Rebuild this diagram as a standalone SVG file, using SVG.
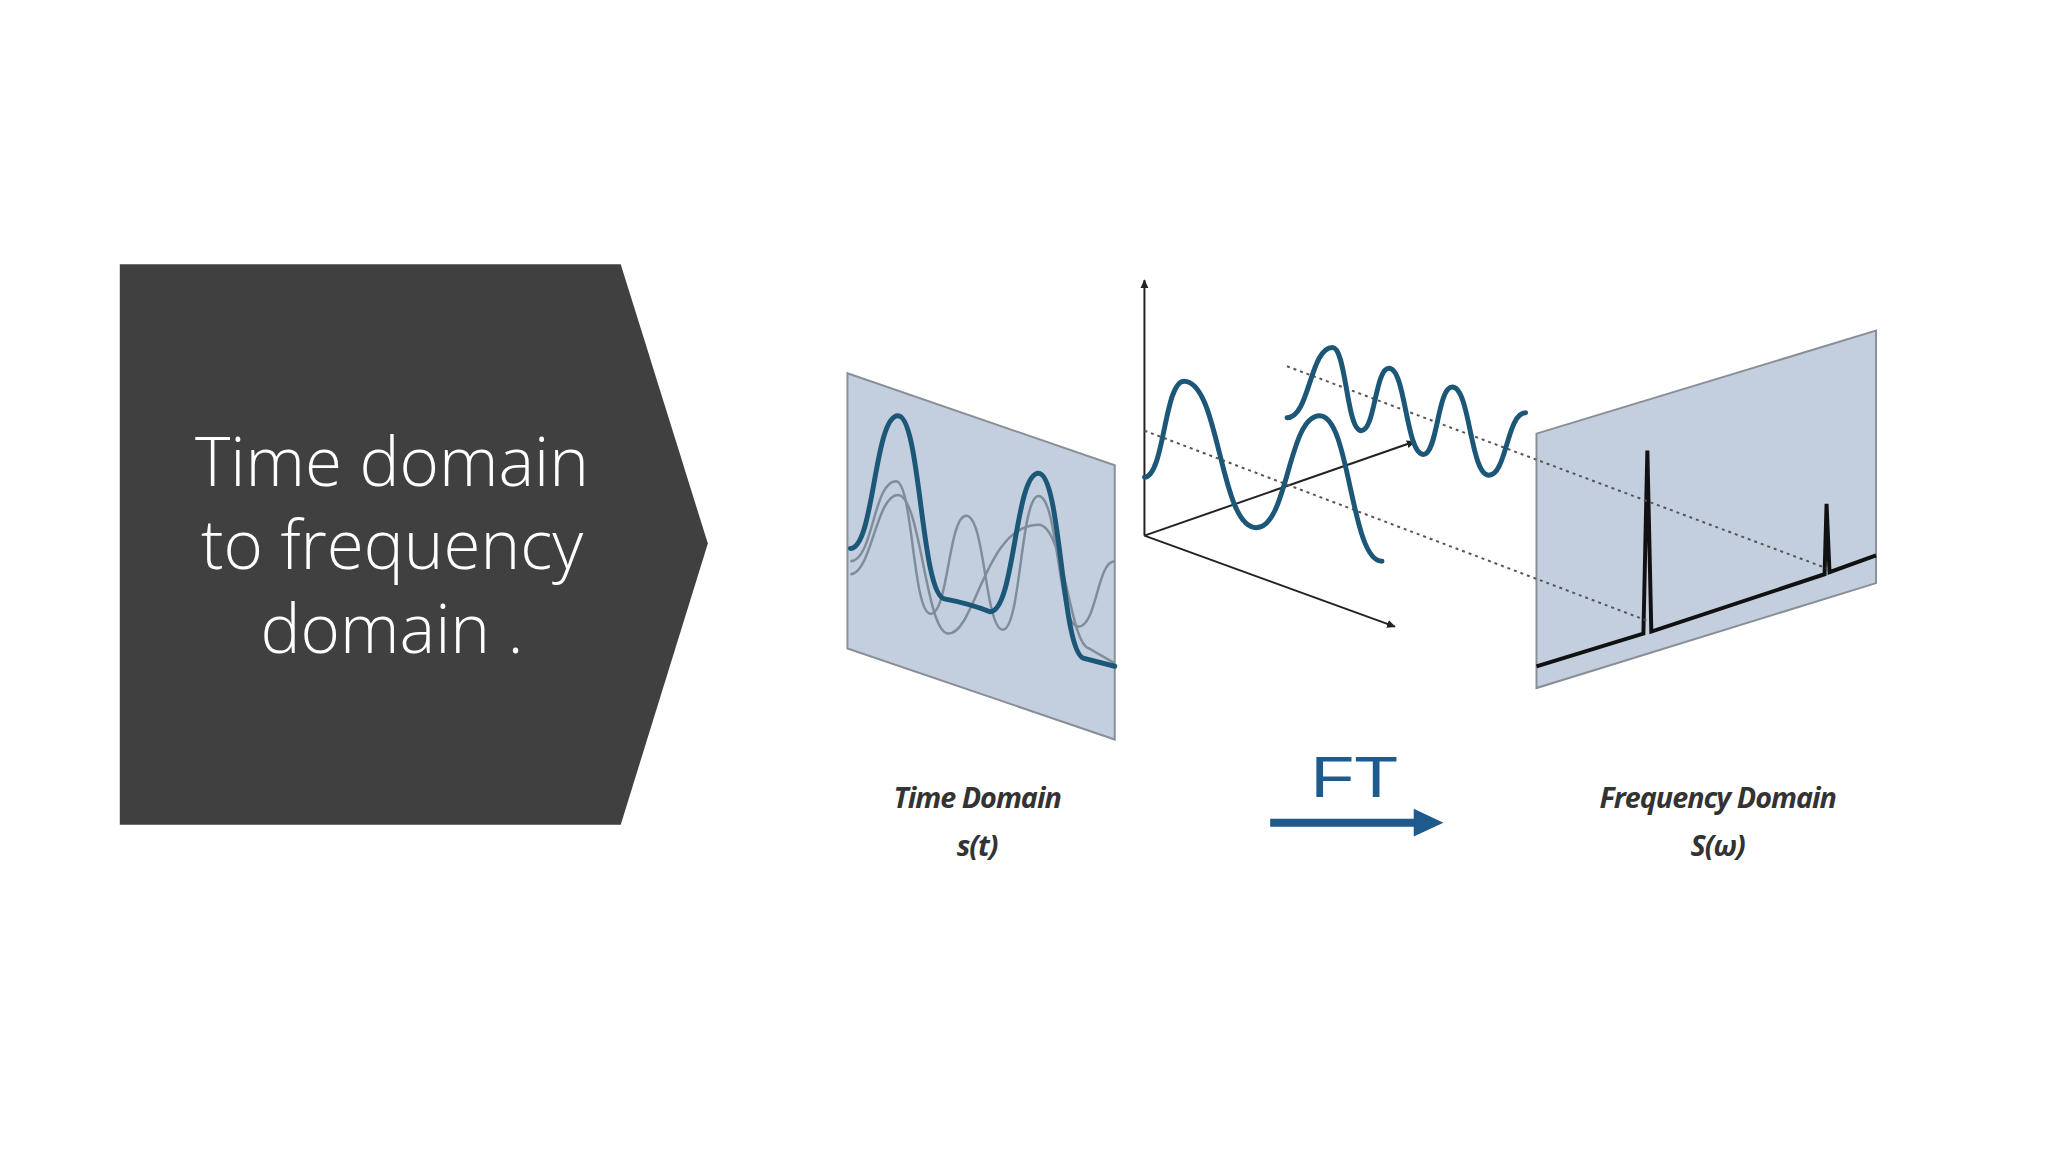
<svg xmlns="http://www.w3.org/2000/svg" width="2048" height="1152" viewBox="0 0 2048 1152">
<style>
.panel{fill:#c3cfdf;stroke:#8a8f96;stroke-width:2}
.wave{fill:none;stroke:#1d5778;stroke-width:5;stroke-linecap:round}
.gray{fill:none;stroke:#7f8c99;stroke-width:2.5}
.axis{fill:none;stroke:#222;stroke-width:2}
.dot{fill:none;stroke:#555;stroke-width:2;stroke-dasharray:3 4}
.lbl{font-family:"Open Sans","Liberation Sans",sans-serif;font-style:italic;font-weight:bold;font-size:29px;fill:#333;text-anchor:middle;letter-spacing:-1px}
</style>
<defs>
<marker id="ah" markerWidth="10" markerHeight="10" refX="8" refY="5" orient="auto" markerUnits="userSpaceOnUse"><path d="M0,1 L9,5 L0,9 z" fill="#222"/></marker>
</defs>
<rect width="2048" height="1152" fill="#fff"/>
<g transform="scale(0.99)">
<g id="title">
<polygon points="121,267 627,267 715,549 627,833 121,833" fill="#404040"/>
<text font-family="Open Sans,Liberation Sans,sans-serif" font-weight="300" font-size="68" fill="#fff" text-anchor="middle"><tspan x="396" y="491">Time domain</tspan><tspan x="396" y="575">to frequency</tspan><tspan x="396" y="660">domain .</tspan></text>
</g>
<g id="time-panel">
<polygon class="panel" points="856,377 1126,470 1126,747 856,655"/>
<path class="gray" d="M859,567 C882,567 882,486 905,486 C922,486 922,620 940,620 C958,620 958,521 976,521 C995,521 995,636 1013,636 C1031,636 1031,501 1049,501 C1069,501 1069,633 1089,633 C1108,633 1108,567 1126,567"/>
<path class="gray" d="M859,580 C880,580 885,500 907,500 C930,500 935,640 958,640 C985,640 995,530 1049,530 C1075,530 1080,650 1100,655 L1126,670"/>
<path class="wave" d="M859,554 C883,554 883,420 907,420 C930,420 930,600 954,605 C970,608 985,612 1000,618 C1025,618 1025,478 1049,478 C1072,478 1072,660 1095,665 L1126,673"/>
</g>
<g id="freq-panel">
<polygon class="panel" points="1552,438 1895,334 1895,589 1552,695"/>
<path d="M1552,673 L1660,640 L1664,455 L1668,638 L1843,580 L1845,509 L1848,578 L1895,561" fill="none" stroke="#111" stroke-width="4"/>
</g>
<g id="axes">
<line class="axis" x1="1156" y1="541" x2="1156" y2="283" marker-end="url(#ah)"/>
<line class="axis" x1="1156" y1="541" x2="1409" y2="633" marker-end="url(#ah)"/>
<line class="axis" x1="1156" y1="541" x2="1429" y2="446" marker-end="url(#ah)"/>
<line class="dot" x1="1300" y1="370" x2="1845" y2="574"/>
<line class="dot" x1="1156" y1="435" x2="1664" y2="627"/>
<path class="wave" d="M1300,422 C1323,422 1323,351 1346,351 C1360,351 1360,435 1375,435 C1389,435 1389,372 1403,372 C1420,372 1420,459 1438,459 C1452,459 1452,391 1467,391 C1485,391 1485,480 1504,480 C1522,480 1522,417 1541,417"/>
<path class="wave" d="M1156,482 C1176,482 1176,385 1196,385 C1232,385 1232,533 1269,533 C1301,533 1301,420 1333,420 C1364,420 1364,567 1396,567"/>
</g>
<g id="labels">
<text class="lbl" x="987" y="816">Time Domain</text>
<text class="lbl" x="987" y="865">s(t)</text>
<text class="lbl" x="1735" y="816">Frequency Domain</text>
<text class="lbl" x="1735" y="865">S(ω)</text>
</g>
<g id="ft">
<text x="1368" y="805" font-family="Liberation Sans,sans-serif" font-size="58" fill="#1f5a8c" text-anchor="middle" transform="translate(1368,0) scale(1.25,1) translate(-1368,0)">FT</text>
<path d="M1283,827 L1428,827 L1428,817 L1458,831 L1428,845 L1428,835 L1283,835 z" fill="#1f5a8c"/>
</g>
</g>
</svg>
